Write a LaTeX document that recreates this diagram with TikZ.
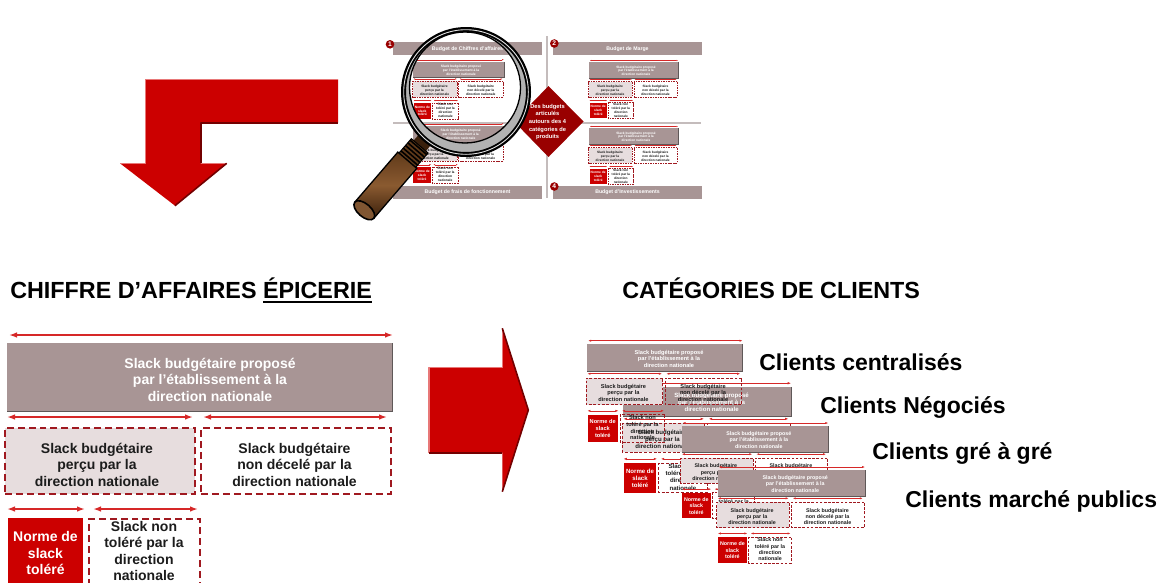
\documentclass[tikz,border=0pt]{standalone}
\usepackage{fontspec}
\setmainfont{Liberation Sans}
\usetikzlibrary{arrows.meta}

\definecolor{boxgray}{RGB}{168,149,149}
\definecolor{percfill}{RGB}{231,221,222}
\definecolor{dashred}{RGB}{160,25,32}
\definecolor{dimred}{RGB}{214,40,40}
\definecolor{normred}{RGB}{204,0,0}
\definecolor{deepred}{RGB}{153,0,0}
\definecolor{arrowred}{RGB}{204,0,0}
\definecolor{arrowlit}{RGB}{232,120,120}
\definecolor{arrowdim}{RGB}{115,0,0}
\definecolor{shadowgray}{RGB}{95,88,88}
\definecolor{textdark}{RGB}{28,28,28}
\definecolor{guidegray}{RGB}{196,188,188}
\definecolor{lensgray}{RGB}{178,178,178}
\definecolor{rimlight}{RGB}{225,225,225}
\definecolor{handledark}{RGB}{58,32,12}
\definecolor{handlemid}{RGB}{96,58,26}
\definecolor{handlelight}{RGB}{138,90,48}
\definecolor{handlecap}{RGB}{128,86,50}

% 1 unit of the drawing = 0.75pt
\newcommand\upx{*0.75pt}
\newcommand\unitfont{\fontsize{10.5}{12.4}\selectfont\bfseries}
\newcommand\thickul[1]{\leavevmode\vtop{\hbox{#1}\kern1.6pt\hrule height 1.6pt}}

\tikzset{
  unitbox/.style={rectangle, anchor=north west, inner sep=0pt},
  topbox/.style={unitbox, fill=boxgray},
  percbox/.style={unitbox, fill=percfill, draw=dashred, sudash},
  openbox/.style={unitbox, draw=dashred, sudash},
  normbox/.style={unitbox, fill=normred},
  lighttext/.style={inner sep=0pt, align=center, font=\unitfont, text=white},
  darktext/.style={inner sep=0pt, align=center, font=\unitfont, text=textdark},
  dimline/.style={draw=dimred, sudim},
  topshadow/.style={draw=shadowgray, line width=\suSw},
  heading/.style={font=\fontsize{17.5}{20}\selectfont\bfseries, inner sep=0pt, anchor=base west},
  clientlabel/.style={font=\fontsize{17.25}{20}\selectfont\bfseries, inner sep=0pt, anchor=west},
  budgetbar/.style={rectangle, fill=boxgray, text=white, inner sep=0pt,
    minimum width=148.4\upx, minimum height=12.7\upx, font=\fontsize{3.9}{4.5}\selectfont\bfseries},
  numdot/.style={circle, fill=deepred, text=white, inner sep=0pt, minimum size=8.6\upx,
    font=\fontsize{5}{5}\selectfont\bfseries},
  diamondtext/.style={text=white, align=center, inner sep=0pt, font=\fontsize{4.3}{5.8}\selectfont\bfseries},
  guideline/.style={draw=guidegray, line width=1.6\upx},
  arrowlight/.style={draw=arrowlit, line width=1.3\upx, line join=round},
  arrowshade/.style={draw=arrowdim, line width=1.6\upx, line join=round},
}

% slack breakdown block: #1 name prefix, #2 #3 top-left position, #4 scale
\newcommand\slackunit[4]{%
  \pgfmathsetlengthmacro\suLw{1.5*#4}%
  \pgfmathsetlengthmacro\suDon{5.2*#4}%
  \pgfmathsetlengthmacro\suDoff{3*#4}%
  \pgfmathsetlengthmacro\suAw{1.2*#4}%
  \pgfmathsetlengthmacro\suTl{6*#4}%
  \pgfmathsetlengthmacro\suTw{4.2*#4}%
  \pgfmathsetlengthmacro\suSw{1.4*#4}%
  \tikzset{
    sudash/.estyle={line width=\suLw, dash pattern=on \suDon\space off \suDoff},
    sudim/.estyle={line width=\suAw, arrows={Latex[length=\suTl,width=\suTw]-Latex[length=\suTl,width=\suTw]}}}%
  \begin{scope}[shift={(#2,#3)}, scale=#4, transform shape]
    \draw[dimline] (2,0) -- (386,0);
    \node[topbox, minimum width=385\upx, minimum height=68\upx] (#1-top) at (0,8) {};
    \draw[topshadow] (#1-top.south west) -- (#1-top.south east) -- (#1-top.north east);
    \node[lighttext] (#1-toptext) at (203,44.5)
      {Slack budgétaire proposé\\par l’établissement à la\\direction nationale};
    \draw[dimline] (0,82) -- (186,82);
    \draw[dimline] (196,82) -- (380,82);
    \node[percbox, minimum width=190\upx, minimum height=66\upx] (#1-perc) at (-3,92) {};
    \node[darktext] (#1-perctext) at (90,129.5)
      {Slack budgétaire\\perçu par la\\direction nationale};
    \node[openbox, minimum width=190\upx, minimum height=66\upx] (#1-hidden) at (193,92) {};
    \node[darktext] (#1-hiddentext) at (287.5,129.5)
      {Slack budgétaire\\non décelé par la\\direction nationale};
    \draw[dimline] (0,174) -- (78,174);
    \draw[dimline] (86,174) -- (191,174);
    \node[normbox, minimum width=75\upx, minimum height=68\upx] (#1-norm) at (1,183) {};
    \node[lighttext] (#1-normtext) at (38.5,218) {Norme de\\slack\\toléré};
    \node[openbox, minimum width=111\upx, minimum height=68\upx] (#1-nontol) at (81,183) {};
    \node[darktext] (#1-nontoltext) at (137,216)
      {Slack non\\toléré par la\\direction\\nationale};
  \end{scope}}

\begin{document}
\begin{tikzpicture}[x=0.75pt, y=-0.75pt]
\useasboundingbox (0,0) rectangle (1162,582);
\clip (0,0) rectangle (1162,582);

% ---- overview of the four budgets ----
\draw[guideline] (547,36) -- (547,198);
\draw[guideline] (393,123) -- (701,123);

\slackunit{qa}{413.3}{59.7}{0.235}
\slackunit{qb}{589.3}{60.5}{0.23}
\slackunit{qc}{413}{123.8}{0.235}
\slackunit{qd}{589.3}{126.5}{0.23}

\node[budgetbar] (bar1) at (467.5,48.7) {Budget de Chiffres d’affaires};
\node[budgetbar] (bar2) at (627.5,48.7) {Budget de Marge};
\node[budgetbar] (bar3) at (467.5,192.2) {Budget de frais de fonctionnement};
\node[budgetbar] (bar4) at (627.5,192.2) {Budget d’Investissements};
\node[numdot] (n1) at (390,44.3) {1};
\node[numdot] (n2) at (554.3,43.5) {2};
\node[numdot] (n4) at (554.3,186.5) {4};

\fill[deepred] (548.5,86) -- (583.5,121.5) -- (548.5,157) -- (514,121.5) -- cycle;
\node[diamondtext] (diam) at (547.5,122)
  {Des budgets\\articulés\\autours des 4\\catégories de\\produits};

% ---- bent arrow pointing down ----
\fill[arrowred] (338,79.3) -- (145.7,79.3) -- (145.7,163.3) -- (120,163.3) -- (175,205.7)
  -- (226.7,163.3) -- (200.7,163.3) -- (200.7,122.7) -- (338,122.7) -- cycle;
\draw[arrowlight] (338,79.3) -- (145.7,79.3) -- (145.7,163.3) -- (120,163.3);
\draw[arrowlight] (226.7,163.3) -- (200.7,163.3);
\draw[arrowshade] (175,205.7) -- (226.7,163.3);
\draw[arrowshade] (200.7,163.3) -- (200.7,122.7) -- (338,122.7);

% ---- magnifying glass ----
\begin{scope}[shift={(466,92)}, x=0.75pt, y=0.75pt, rotate=229.3]
  \fill[handledark] (58,-8) rectangle (71,8);
  \fill[handlemid] (71,-11) rectangle (90,11);
  \foreach \rr in {73,76.5,80,83.5,87} \draw[black, line width=1.6\upx] (\rr,-11) -- (\rr,11);
  \draw[black, line width=1\upx] (71,-11) rectangle (90,11);
  \shade[top color=handlemid, bottom color=handledark, middle color=handlelight] (90,-12.5) rectangle (156,12.5);
  \draw[black, line width=1.3\upx] (156,-12.5) -- (90,-12.5) -- (90,12.5) -- (156,12.5);
  \filldraw[fill=handlecap, draw=black, line width=1.6\upx] (156,0) ellipse [x radius=6.5, y radius=12.5];
\end{scope}
\begin{scope}[shift={(466,92)}, x=0.75pt, y=0.75pt]
  \fill[lensgray, even odd rule] (0,0) circle (61) (-1,4.5) circle (55.5);
  \draw[black, line width=5\upx] (0,0) circle (62.5);
  \draw[rimlight, line width=0.9\upx] (0,0) circle (62.3);
  \draw[black, line width=1.3\upx] (-1,4.5) circle (55.5);
\end{scope}

% ---- headings ----
\node[heading] (hca) at (10,298.3) {CHIFFRE D’AFFAIRES \thickul{ÉPICERIE}};
\node[heading] (hcat) at (622,298.3) {CATÉGORIES DE CLIENTS};

% ---- detailed block ----
\slackunit{ca}{7}{335}{1}

% ---- arrow pointing right ----
\fill[arrowred] (429,367.3) -- (502.3,367.3) -- (502.3,328.3) -- (528.3,410) -- (502.3,491.7)
  -- (502.3,452.7) -- (429,452.7) -- cycle;
\draw[arrowlight] (429,452.7) -- (429,367.3) -- (502.3,367.3) -- (502.3,328.3);
\draw[arrowshade] (502.3,328.3) -- (528.3,410) -- (502.3,491.7);
\draw[arrowshade] (502.3,452.7) -- (429,452.7);

% ---- client categories ----
\slackunit{cb}{623.3}{383.2}{0.435}
\slackunit{cc}{587.2}{340.7}{0.403}
\slackunit{cg}{681.7}{423}{0.38}
\slackunit{cm}{717.7}{467}{0.382}

\node[clientlabel] (lab1) at (759,362) {Clients centralisés};
\node[clientlabel] (lab2) at (820,407) {Clients Négociés};
\node[clientlabel] (lab3) at (872,453) {Clients gré à gré};
\node[clientlabel] (lab4) at (905,501) {Clients marché publics};
\end{tikzpicture}
\end{document}
